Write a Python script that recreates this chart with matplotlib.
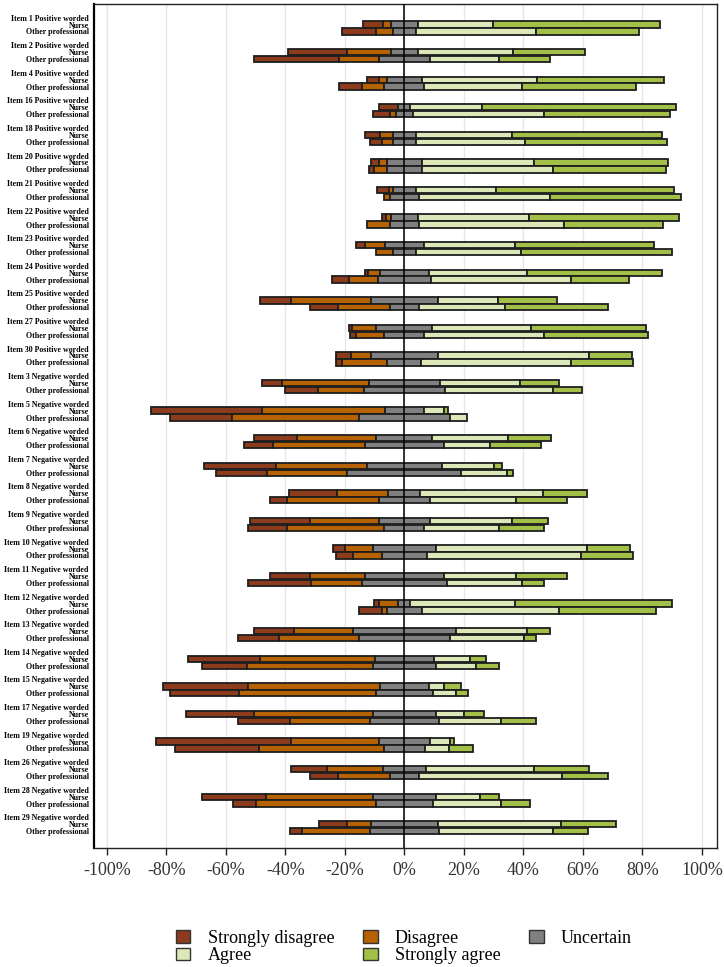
import matplotlib
matplotlib.use("Agg")
import matplotlib.pyplot as plt
import numpy as np
from matplotlib.patches import Patch

items = ["Item 1 Positive worded", "Item 2 Positive worded", "Item 4 Positive worded",
         "Item 16 Positive worded", "Item 18 Positive worded", "Item 20 Positive worded",
         "Item 21 Positive worded", "Item 22 Positive worded", "Item 23 Positive worded",
         "Item 24 Positive worded", "Item 25 Positive worded", "Item 27 Positive worded",
         "Item 30 Positive worded", "Item 3 Negative worded", "Item 5 Negative worded",
         "Item 6 Negative worded", "Item 7 Negative worded", "Item 8 Negative worded",
         "Item 9 Negative worded", "Item 10 Negative worded", "Item 11 Negative worded",
         "Item 12 Negative worded", "Item 13 Negative worded", "Item 14 Negative worded",
         "Item 15 Negative worded", "Item 17 Negative worded", "Item 19 Negative worded",
         "Item 26 Negative worded", "Item 28 Negative worded", "Item 29 Negative worded"]

groups = ["Nurse", "Other professional"]
categories = ["Strongly disagree", "Disagree", "Uncertain", "Agree", "Strongly agree"]

# percentages per item: [SD, D, U, A, SA]
nurse = [
    [6.7, 2.8, 9.0, 25.4, 55.9],
    [19.9, 14.7, 9.2, 32.0, 24.1],
    [4.1, 2.6, 11.8, 38.6, 42.7],
    [6.5, 0.0, 4.0, 24.1, 65.1],
    [5.2, 4.1, 8.0, 32.0, 50.6],
    [2.7, 2.6, 11.8, 37.5, 45.2],
    [3.9, 1.3, 8.0, 26.7, 59.9],
    [1.2, 1.6, 9.2, 37.2, 50.6],
    [2.8, 6.7, 13.2, 30.7, 46.5],
    [1.2, 4.0, 16.2, 33.2, 45.3],
    [10.6, 26.7, 22.6, 20.0, 20.1],
    [1.2, 8.1, 18.8, 33.2, 38.6],
    [5.1, 6.8, 22.5, 50.8, 14.4],
    [6.7, 29.2, 23.8, 26.9, 13.3],
    [37.3, 41.4, 13.2, 6.6, 1.3],
    [14.4, 26.7, 18.8, 25.3, 14.4],
    [24.1, 30.5, 25.3, 17.4, 2.6],
    [15.9, 17.4, 10.7, 41.3, 14.6],
    [20.1, 23.0, 17.4, 27.3, 12.1],
    [4.0, 9.3, 21.3, 50.6, 14.7],
    [13.2, 18.6, 26.5, 24.1, 17.4],
    [1.6, 6.5, 4.0, 35.2, 52.8],
    [13.3, 19.9, 34.7, 23.9, 7.8],
    [24.0, 38.7, 19.8, 12.1, 5.3],
    [28.4, 44.5, 16.3, 5.3, 5.4],
    [22.6, 40.0, 21.3, 9.3, 6.7],
    [45.2, 29.5, 17.2, 6.7, 1.2],
    [12.1, 18.6, 14.6, 36.3, 18.3],
    [21.5, 35.9, 21.3, 14.9, 6.4],
    [9.3, 8.0, 22.5, 41.5, 18.4],
]
other = [
    [11.3, 5.7, 7.8, 40.3, 34.6],
    [28.7, 13.5, 17.0, 23.3, 17.1],
    [7.6, 7.6, 13.4, 32.7, 38.5],
    [5.8, 1.9, 5.8, 44.1, 42.2],
    [3.9, 3.7, 7.8, 36.6, 47.9],
    [1.8, 4.2, 11.8, 44.1, 37.8],
    [0.0, 1.7, 10.0, 43.9, 43.9],
    [0.0, 7.6, 9.8, 48.8, 33.2],
    [0.0, 5.7, 7.9, 35.3, 50.8],
    [5.9, 9.7, 17.6, 47.1, 19.5],
    [9.7, 17.4, 9.5, 28.9, 34.7],
    [1.9, 9.6, 13.4, 40.3, 34.8],
    [1.9, 15.4, 11.4, 50.2, 20.9],
    [11.3, 15.4, 27.0, 36.5, 9.6],
    [21.0, 42.5, 30.6, 5.9, 0.0],
    [9.5, 30.9, 26.8, 15.4, 17.2],
    [17.1, 27.1, 38.3, 15.4, 1.9],
    [5.6, 30.9, 17.2, 28.8, 17.3],
    [13.2, 32.7, 13.4, 25.1, 15.2],
    [5.7, 9.7, 15.2, 51.8, 17.4],
    [21.1, 17.2, 28.7, 25.0, 7.6],
    [7.6, 1.7, 11.6, 46.3, 32.6],
    [13.5, 27.0, 30.6, 24.9, 3.9],
    [15.3, 42.2, 21.2, 13.4, 7.7],
    [23.1, 46.1, 19.2, 7.8, 3.9],
    [17.2, 27.0, 23.1, 21.0, 11.6],
    [28.1, 41.9, 14.0, 7.9, 8.1],
    [9.7, 17.4, 9.5, 48.1, 15.5],
    [7.8, 40.2, 19.4, 22.9, 9.7],
    [4.1, 22.9, 23.1, 38.4, 11.6],
]

colors = ["#8C3B1C", "#B76200", "#808080", "#DCE8B8", "#A2BF48"]
xticks = [-100, -80, -60, -40, -20, 0, 20, 40, 60, 80, 100]
xticklabels = ["-100%", "-80%", "-60%", "-40%", "-20%", "0%", "20%", "40%", "60%", "80%", "100%"]

fig = plt.figure(figsize=(7.24, 9.67), dpi=100)
ax = fig.add_axes([93.7 / 724, 1 - 847.7 / 967, (716.6 - 93.7) / 724, (847.7 - 3.7) / 967])

ytick_pos, ytick_lab = [], []
for g, name in enumerate(items):
    base = g * 4
    ytick_pos.append(base)
    ytick_lab.append(name)
    for k, (lab, data) in enumerate(zip(groups, (nurse, other))):
        y = base + 1 + k
        ytick_pos.append(y)
        ytick_lab.append(lab)
        sd, d, u, a, sa = data[g]
        lefts = [-(u / 2 + d + sd), -(u / 2 + d), -u / 2, u / 2, u / 2 + a]
        widths = [sd, d, u, a, sa]
        for c in range(5):
            if widths[c] <= 0:
                continue
            ax.barh(y, widths[c], left=lefts[c], height=0.92, color=colors[c],
                    edgecolor="#1e1e1e", linewidth=1.3, zorder=3)

ax.set_ylim(120.4, -2.03)
ax.set_xlim(-104.4, 104.9)
ax.set_yticks(ytick_pos)
ax.set_yticklabels(ytick_lab, fontsize=5.7, fontweight="bold", family="Liberation Serif")
ax.tick_params(axis="y", length=0, pad=3.5)
ax.set_xticks(xticks)
ax.set_xticklabels(xticklabels, fontsize=13, family="Liberation Serif", color="#333333")
ax.tick_params(axis="x", length=5, width=1, pad=5, color="#222222")
ax.grid(axis="x", color="#e6e6e6", linewidth=1, zorder=0)
ax.set_axisbelow(True)
ax.axvline(0, color="black", linewidth=1.1, zorder=4)
for s in ["top", "right", "bottom"]:
    ax.spines[s].set_linewidth(1.0)
    ax.spines[s].set_color("#222222")
ax.spines["left"].set_linewidth(1.6)
ax.spines["left"].set_color("black")

order = [0, 3, 1, 4, 2]
handles = [Patch(facecolor=colors[i], edgecolor="#333333", linewidth=1.0) for i in order]
labels = [categories[i] for i in order]
fig.legend(handles, labels, ncol=3, loc="center", bbox_to_anchor=(404 / 724, 1 - 947 / 967),
           frameon=False, prop={"family": "Liberation Serif", "size": 13},
           handlelength=0.8, handleheight=0.7, columnspacing=1.6, handletextpad=0.95,
           labelspacing=0.05)

fig.savefig("out.png", dpi=100)
